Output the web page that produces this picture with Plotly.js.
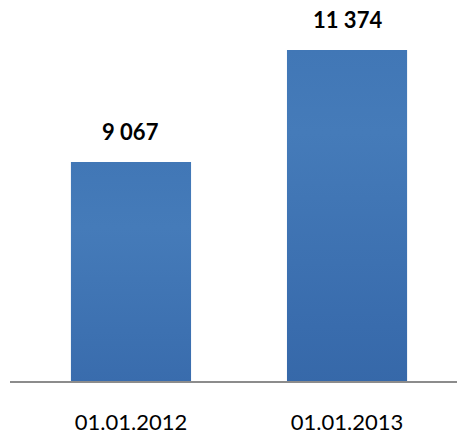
<!DOCTYPE html>
<html>
<head>
<meta charset="utf-8">
<script src="https://cdn.plot.ly/plotly-3.0.1.min.js"></script>
<style>html,body{margin:0;padding:0;background:#fff;}#chart{width:457px;height:434px;}</style>
</head>
<body>
<div id="chart"></div>
<script>
var categories = ["01.01.2012", "01.01.2013"];
var values = [9067, 11374];

function fmt(v) { return String(v).replace(/\B(?=(\d{3})+(?!\d))/g, ' '); }

var trace = {
  type: 'bar',
  x: categories,
  y: values,
  marker: { color: '#3a6cac', line: { width: 0 } },
  hoverinfo: 'none'
};

var annotations = categories.map(function (c, i) {
  return {
    x: c, y: values[i], text: '<b>' + fmt(values[i]) + '</b>',
    xref: 'x', yref: 'y', showarrow: false,
    yanchor: 'bottom', yshift: 15,
    font: { family: 'Lato, "Open Sans", sans-serif', size: 22, color: '#000' }
  };
});

var layout = {
  width: 457, height: 434,
  margin: { l: 10, r: 0, t: 0, b: 53 },
  paper_bgcolor: '#fff', plot_bgcolor: '#fff',
  showlegend: false,
  bargap: 0.444,
  xaxis: {
    type: 'category',
    range: [-0.56, 1.509],
    showline: true, linecolor: '#8c8c8c', linewidth: 2,
    ticks: '', showgrid: false, zeroline: false,
    ticklabelstandoff: 21,
    tickfont: { family: 'Lato, "Open Sans", sans-serif', size: 22, color: '#000' }
  },
  yaxis: {
    range: [4556, 12404],
    visible: false, showgrid: false, zeroline: false
  },
  annotations: annotations
};

Plotly.newPlot('chart', [trace], layout, { staticPlot: true, displayModeBar: false }).then(function (gd) {
  var svg = gd.querySelector('svg.main-svg');
  var ns = 'http://www.w3.org/2000/svg';
  var defs = svg.querySelector('defs') || svg.insertBefore(document.createElementNS(ns, 'defs'), svg.firstChild);
  var g = document.createElementNS(ns, 'linearGradient');
  g.setAttribute('id', 'barGrad');
  g.setAttribute('x1', '0'); g.setAttribute('y1', '0');
  g.setAttribute('x2', '0'); g.setAttribute('y2', '1');
  [['0', '#4177b6'], ['0.15', '#457bb9'], ['0.5', '#396cad'], ['1', '#2b5a99']].forEach(function (s) {
    var st = document.createElementNS(ns, 'stop');
    st.setAttribute('offset', s[0]);
    st.setAttribute('stop-color', s[1]);
    g.appendChild(st);
  });
  defs.appendChild(g);
  gd.querySelectorAll('.bars .point path').forEach(function (p) {
    p.style.fill = 'url(#barGrad)';
  });
});
</script>
</body>
</html>
